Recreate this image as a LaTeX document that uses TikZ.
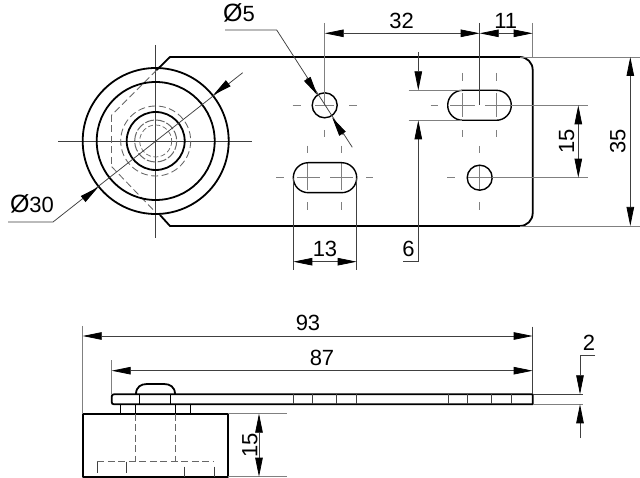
\documentclass[tikz,border=0pt]{standalone}
\usepackage{fontspec}
\setmainfont{Liberation Sans}
\usetikzlibrary{arrows.meta}
\newcommand{\bigdia}{{\fontsize{25pt}{25pt}\selectfont Ø}}
\tikzset{
  outline/.style={line width=1.8pt,black,line join=round},
  mid/.style={line width=1.1pt,black},
  thin line/.style={line width=0.75pt,black!75},
  extl/.style={line width=0.75pt,black!50},
  centre/.style={line width=0.75pt,black!50},
  hidden/.style={line width=0.85pt,black!60,dash pattern=on 7pt off 3.5pt},
  hiddenthick/.style={line width=1.2pt,black!60,dash pattern=on 7pt off 3.5pt},
  dimtip/.tip={Triangle[length=19pt,width=7.5pt,black]},
  dim/.style={thin line,{dimtip}-{dimtip}},
  lab/.style={font=\fontsize{22pt}{22pt}\selectfont,inner sep=0pt,text=black},
}
\begin{document}
\begin{tikzpicture}[x=1pt,y=-1pt]
\useasboundingbox (0,0) rectangle (640,478);
\fill[white] (0,0) rectangle (640,478);

% ---- centre lines, top view
\draw[thin line] (58,141) -- (252,141);
\draw[thin line] (155.7,45) -- (155.7,238);
% hole 5
\foreach \a/\b in {292.7/300.7,315/334,349.3/356.7} \draw[centre] (\a,105.3) -- (\b,105.3);
\draw[centre] (324.7,130) -- (324.7,136.7);
% lower slot
\foreach \a/\b in {276/284,296.7/320,330/353.3,366/373} \draw[centre] (\a,177.7) -- (\b,177.7);
\foreach \x in {307.7,341.7} {
  \draw[centre] (\x,145.7) -- (\x,153.3);
  \draw[centre] (\x,163) -- (\x,190);
  \draw[centre] (\x,202.3) -- (\x,210);
}
% upper slot
\foreach \a/\b in {430.7/438.3,450/475,485/513} \draw[centre] (\a,105.3) -- (\b,105.3);
\foreach \x in {462.7,496.7} {
  \draw[centre] (\x,73) -- (\x,80.7);
  \draw[centre] (\x,93) -- (\x,116.7);
  \draw[centre] (\x,130) -- (\x,136.7);
}
% lower right hole
\foreach \a/\b in {447.3/455,467/491.7} \draw[centre] (\a,177.7) -- (\b,177.7);
\draw[centre] (479.7,146) -- (479.7,153);
\draw[centre] (479.7,165) -- (479.7,190);
\draw[centre] (479.7,202) -- (479.7,210);

% ---- hidden lines, top view
\draw[hidden] (156.7,70) -- (111.7,115);
\draw[hiddenthick] (111.7,115) -- (111.7,166.7);
\draw[hidden] (111.7,166.7) -- (155,211.7);
\draw[hidden] (155.7,141) circle[radius=35];
\draw[hidden,line width=1pt,dash pattern=on 9pt off 2pt] (155.7,141) circle[radius=21];
\draw[hidden,line width=0.7pt,dash pattern=on 5pt off 2.5pt] (155.7,141) circle[radius=16];

% ---- plate and wheel, top view
\draw[outline] (156.7,70) -- (170,57) -- (519.7,57) .. controls (527,57) and (532.7,62.7) .. (532.7,70)
  -- (532.7,213) .. controls (532.7,220.3) and (527,226) .. (519.7,226) -- (170,226) -- (160,215);
\draw[outline] (155.7,141) circle[radius=73];
\draw[outline] (155.7,141) circle[radius=59];
\draw[outline] (155.7,141) circle[radius=29];
\draw[mid,line width=1.4pt] (324.7,105.3) circle[radius=12.5];
\draw[mid,line width=1.4pt] (479.7,177.7) circle[radius=12.5];
\draw[mid,line width=1.4pt,rounded corners=15pt] (293.3,162.7) rectangle (356.7,192.7);
\draw[mid,line width=1.4pt,rounded corners=15pt] (447.7,90.3) rectangle (511.3,120.3);

% ---- dimensions, top view
\draw[extl] (324.7,23) -- (324.7,105.3);
\draw[thin line] (479.7,23) -- (479.7,105.3);
\draw[extl] (532.7,23) -- (532.7,57);
\draw[dim] (324.7,33.3) -- (479.7,33.3);
\draw[dim] (479.7,33.3) -- (532.7,33.3);
\node[lab] (d32) at (401.7,21) {32};
\node[lab] (d11) at (505.7,21) {11};

% diameter 5
\draw[thin line] (225,30) -- (276.7,30) -- (352.3,147.3);
\coordinate (p5a) at (317.3,95);
\coordinate (p5ab) at (306.7,78);
\coordinate (p5b) at (332.3,117.7);
\coordinate (p5bb) at (343.3,135);
\draw[thin line,-{dimtip}] (p5ab) -- (p5a);
\draw[thin line,-{dimtip}] (p5bb) -- (p5b);
\node[lab,anchor=base] (d5) at (239,22) {\bigdia 5};

% diameter 30
\draw[thin line] (8,222) -- (53,222) -- (242.7,72.7);
\coordinate (p30a) at (213.3,95);
\coordinate (p30ab) at (228.2,83.3);
\coordinate (p30b) at (98.1,187.3);
\coordinate (p30bb) at (83.2,199);
\draw[thin line,-{dimtip}] (p30ab) -- (p30a);
\draw[thin line,-{dimtip}] (p30bb) -- (p30b);
\node[lab,anchor=base] (d30) at (32,213) {\bigdia 30};

% 6
\draw[extl] (408.7,90.3) -- (462,90.3);
\draw[extl] (408.7,120.3) -- (462,120.3);
\draw[thin line,-{dimtip}] (418.3,52.3) -- (418.3,90.3);
\draw[thin line,-{dimtip}] (418.3,261.7) -- (418.3,120.3);
\draw[thin line] (418.3,261.7) -- (402.7,261.7);
\node[lab] (d6) at (408.5,249) {6};

% 13
\draw[thin line] (293.3,178) -- (293.3,270);
\draw[thin line] (356.7,178) -- (356.7,270);
\draw[dim] (293.3,261.7) -- (356.7,261.7);
\node[lab] (d13) at (325,249) {13};

% 15 right
\draw[extl] (511.3,105.3) -- (588,105.3);
\draw[extl] (491.7,177.7) -- (588,177.7);
\draw[dim] (578.3,105.3) -- (578.3,177.7);
\node[lab,rotate=90] (d15a) at (566.7,141.7) {15};

% 35
\draw[extl] (520,57) -- (640,57);
\draw[extl] (520,226) -- (640,226);
\draw[dim] (630.3,57) -- (630.3,226);
\node[lab,rotate=90] (d35) at (617.7,141) {35};

% ---- side view
\draw[outline] (82.7,413.7) rectangle (227.7,476.7);
\draw[outline] (114,394.3) -- (532.7,394.3) -- (532.7,404.3) -- (114,404.3) .. controls (112.5,404.3) and (111.7,403.5) .. (111.7,402)
  -- (111.7,396.6) .. controls (111.7,395.1) and (112.5,394.3) .. (114,394.3) -- cycle;
\draw[outline] (136,394) .. controls (136,387) and (141,384) .. (147,384) -- (164,384)
  .. controls (170,384) and (175,387) .. (175,394);
\draw[mid] (139.7,394.3) -- (139.7,404.3);
\draw[mid] (170.7,394.3) -- (170.7,404.3);
\foreach \x in {120.7,135.3,175.3,190.7} \draw[mid,line width=1.4pt] (\x,404.3) -- (\x,413.7);
\foreach \x in {135.3,175.3} \draw[hiddenthick] (\x,413.7) -- (\x,461.7);
\draw[hidden] (97.3,461.7) -- (214,461.7);
\foreach \x in {97.3,126.7} \draw[thin line] (\x,461.7) -- (\x,472.7);
\foreach \x in {184.3,214} \draw[thin line] (\x,466.7) -- (\x,476.7);
\foreach \x in {293.3,312.3,336.7,356.3,448.3,467.7,491.7,511} \draw[thin line] (\x,394.3) -- (\x,404.3);

% 93, 87
\draw[extl] (82.7,326) -- (82.7,413.7);
\draw[thin line] (532.7,326.7) -- (532.7,394.3);
\draw[extl] (111.7,360) -- (111.7,394.3);
\draw[dim] (82.7,336) -- (532.7,336);
\draw[dim] (111.7,370.7) -- (532.7,370.7);
\node[lab] (d93) at (308,323) {93};
\node[lab] (d87) at (322,358) {87};

% 2
\draw[thin line] (532.7,394.3) -- (583,394.3);
\draw[extl] (532.7,404.3) -- (583,404.3);
\draw[thin line] (595,355.7) -- (580,355.7);
\draw[thin line,-{dimtip}] (580,355.7) -- (580,394.3);
\draw[thin line,-{dimtip}] (580,438) -- (580,404.3);
\node[lab] (d2) at (589,343) {2};

% 15 side
\draw[extl] (227.7,413.7) -- (287,413.7);
\draw[extl] (227.7,476.7) -- (287,476.7);
\draw[dim] (259,413.7) -- (259,476.7);
\node[lab,rotate=90] (d15b) at (250,445) {15};
\end{tikzpicture}
\end{document}
